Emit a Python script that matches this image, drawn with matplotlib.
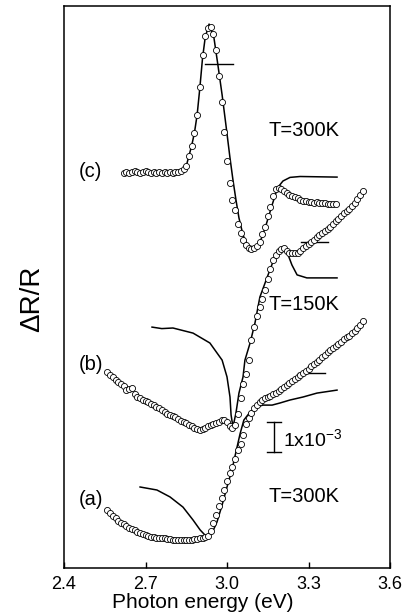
#!/usr/bin/env python3

import matplotlib
matplotlib.use('Agg')
import matplotlib.pyplot as plt
import numpy as np

plt.rcParams['font.family'] = ['Liberation Sans', 'DejaVu Sans']
plt.rcParams['mathtext.fontset'] = 'custom'
plt.rcParams['mathtext.rm'] = 'Liberation Sans'
plt.rcParams['mathtext.it'] = 'Liberation Sans:italic'

# dR/R in units of 1e-3, curves shifted vertically for clarity
# (c) T=300K, measured on a 0.01 eV grid 2.62..3.40
E_c = np.round(np.arange(2.62, 3.405, 0.01), 2)
c_dots = [13.17, 13.20, 13.17, 13.20, 13.23, 13.20, 13.17, 13.20, 13.23, 13.20,
          13.17, 13.20, 13.17, 13.20, 13.17, 13.20, 13.17, 13.20, 13.17, 13.20,
          13.20, 13.23, 13.30, 13.40, 13.74, 14.08, 14.50, 15.10, 16.05, 17.10,
          17.72, 18.00, 18.05, 17.80, 17.28, 16.40, 15.55, 14.55, 13.57, 12.85,
          12.27, 11.92, 11.47, 11.16, 10.92, 10.77, 10.68, 10.63, 10.66, 10.73,
          10.88, 11.12, 11.38, 11.73, 12.04, 12.40, 12.62, 12.67, 12.62, 12.58,
          12.50, 12.44, 12.40, 12.36, 12.33, 12.28, 12.24, 12.22, 12.20, 12.21,
          12.18, 12.20, 12.17, 12.16, 12.18, 12.15, 12.14, 12.15, 12.13]
c_fit_e = [2.62, 2.70, 2.83, 2.85, 2.86, 2.87, 2.88, 2.89, 2.90, 2.91, 2.92, 2.934,
           2.952, 2.966, 2.982, 2.996, 3.011, 3.022, 3.033, 3.044, 3.059, 3.074,
           3.092, 3.110, 3.129, 3.147, 3.166, 3.180, 3.191, 3.206, 3.232, 3.269, 3.405]
c_fit_y = [13.20, 13.20, 13.22, 13.40, 13.74, 14.08, 14.50, 15.10, 16.00, 17.00, 17.70, 18.13,
           17.67, 16.80, 15.77, 14.77, 13.67, 12.93, 12.27, 11.67, 11.10, 10.77,
           10.60, 10.70, 11.03, 11.53, 12.10, 12.50, 12.73, 12.90, 13.02, 13.05, 13.03]

# (b) T=150K, 2.56..3.50
E_b = np.round(np.arange(2.56, 3.505, 0.01), 2)
b_dots = [6.52, 6.43, 6.37, 6.28, 6.20, 6.15, 6.07, 5.95, 5.98, 6.00,
          5.80, 5.70, 5.66, 5.60, 5.57, 5.52, 5.47, 5.43, 5.38, 5.32,
          5.26, 5.20, 5.15, 5.11, 5.07, 5.02, 4.96, 4.91, 4.86, 4.82,
          4.77, 4.72, 4.68, 4.64, 4.60, 4.63, 4.68, 4.72, 4.76, 4.81,
          4.85, 4.88, 4.92, 4.93, 4.87, 4.75, 4.67, 4.78, 5.15, 5.68,
          6.12, 6.47, 6.95, 7.60, 8.02, 8.40, 8.70, 8.96, 9.27, 9.62,
          9.97, 10.28, 10.45, 10.56, 10.63, 10.66, 10.58, 10.51, 10.49, 10.49,
          10.51, 10.58, 10.66, 10.74, 10.81, 10.87, 10.95, 11.02, 11.09, 11.16,
          11.23, 11.30, 11.38, 11.47, 11.56, 11.65, 11.74, 11.82, 11.90, 11.98,
          12.08, 12.18, 12.30, 12.44, 12.58]
b_fit_e = [2.724, 2.76, 2.801, 2.875, 2.937, 2.982, 3.000, 3.011, 3.015, 3.022,
           3.033, 3.044, 3.059, 3.066, 3.085, 3.103, 3.121, 3.147, 3.169, 3.195,
           3.206, 3.221, 3.239, 3.258, 3.294, 3.405]
b_fit_y = [8.03, 7.98, 8.00, 7.83, 7.50, 6.93, 6.37, 5.70, 5.10, 4.70,
           5.17, 5.83, 6.37, 6.93, 7.50, 8.17, 9.03, 9.67, 10.20, 10.60,
           10.70, 10.53, 10.10, 9.77, 9.67, 9.67]

# (a) T=300K, 2.56..3.50
E_a = np.round(np.arange(2.56, 3.505, 0.01), 2)
a_dots = [1.92, 1.83, 1.75, 1.66, 1.57, 1.51, 1.46, 1.40, 1.35, 1.30,
          1.26, 1.21, 1.17, 1.14, 1.10, 1.06, 1.03, 1.02, 1.01, 1.00,
          1.00, 0.99, 0.97, 0.96, 0.95, 0.94, 0.93, 0.93, 0.93, 0.93,
          0.94, 0.95, 0.96, 0.97, 0.99, 1.00, 1.02, 1.08, 1.25, 1.50,
          1.78, 2.06, 2.34, 2.60, 2.90, 3.17, 3.38, 3.62, 3.92, 4.12,
          4.45, 4.80, 5.00, 5.18, 5.33, 5.43, 5.52, 5.59, 5.66, 5.71,
          5.75, 5.80, 5.85, 5.90, 5.96, 6.03, 6.10, 6.16, 6.22, 6.29,
          6.36, 6.43, 6.50, 6.57, 6.64, 6.72, 6.80, 6.87, 6.95, 7.03,
          7.11, 7.19, 7.27, 7.33, 7.40, 7.47, 7.55, 7.62, 7.69, 7.75,
          7.82, 7.89, 8.00, 8.11, 8.23]
a_fit_e = [2.680, 2.742, 2.790, 2.838, 2.875, 2.901, 2.926, 2.945, 2.963, 2.982,
           3.000, 3.018, 3.033, 3.048, 3.062, 3.085, 3.110, 3.132, 3.166, 3.195,
           3.232, 3.280, 3.331, 3.405]
a_fit_y = [2.70, 2.60, 2.37, 2.03, 1.60, 1.27, 1.03, 1.17, 1.53, 2.10,
           2.70, 3.27, 3.87, 4.47, 4.93, 5.20, 5.37, 5.43, 5.43, 5.50,
           5.60, 5.70, 5.83, 5.93]

# short horizontal markers (transition energies)
mark_e = [(2.919, 3.022), (3.272, 3.372), (3.261, 3.361)]
mark_y = [16.80, 10.87, 6.50]

xticks = [2.4, 2.7, 3.0, 3.3, 3.6]
xticklabels = ['2.4', '2.7', '3.0', '3.3', '3.6']

W, H = 404, 616
fig = plt.figure(figsize=(W / 100, H / 100), dpi=100)
ax = fig.add_axes([64 / W, 48 / H, 326 / W, 562 / H])

dot_kw = dict(ls='none', marker='o', ms=4.4, mfc='white', mec='black', mew=0.6, zorder=3)
for fe, fy, ee, dd in [(c_fit_e, c_fit_y, E_c, c_dots),
                       (b_fit_e, b_fit_y, E_b, b_dots),
                       (a_fit_e, a_fit_y, E_a, a_dots)]:
    ax.plot(fe, fy, color='black', lw=1.1, zorder=2)
    ax.plot(ee, dd, **dot_kw)

for (e0, e1), yy in zip(mark_e, mark_y):
    ax.plot([e0, e1], [yy, yy], color='black', lw=1.0)

# scale bar 1x10^-3
ax.plot([3.173, 3.173], [3.87, 4.87], color='black', lw=1.0)
ax.plot([3.146, 3.199], [4.87, 4.87], color='black', lw=1.0)
ax.plot([3.146, 3.199], [3.87, 3.87], color='black', lw=1.0)
ax.text(3.207, 4.30, r'1x10$^{\mathrm{-3}}$', fontsize=14, va='center', ha='left')

ax.text(3.151, 14.6, 'T=300K', fontsize=14.5, va='center', ha='left')
ax.text(3.151, 8.77, 'T=150K', fontsize=14.5, va='center', ha='left')
ax.text(3.151, 2.40, 'T=300K', fontsize=14.5, va='center', ha='left')
ax.text(2.455, 13.23, '(c)', fontsize=14.5, va='center', ha='left')
ax.text(2.455, 6.77, '(b)', fontsize=14.5, va='center', ha='left')
ax.text(2.455, 2.27, '(a)', fontsize=14.5, va='center', ha='left')

ax.set_xlim(2.4, 3.6)
ax.set_ylim(0, 562 / 30)
ax.set_xticks(xticks)
ax.set_xticklabels(xticklabels)
ax.set_yticks([])
ax.tick_params(axis='x', direction='in', length=4, width=1, labelsize=13, pad=5.5)
for s in ax.spines.values():
    s.set_linewidth(1.1)

fig.text(203 / W, 1 - 603 / H, 'Photon energy (eV)', fontsize=15, ha='center', va='center')
fig.text(32 / W, 1 - 299 / H, '\u0394R/R', fontsize=20, rotation=90, ha='center', va='center')

fig.savefig('out.png', dpi=100)
